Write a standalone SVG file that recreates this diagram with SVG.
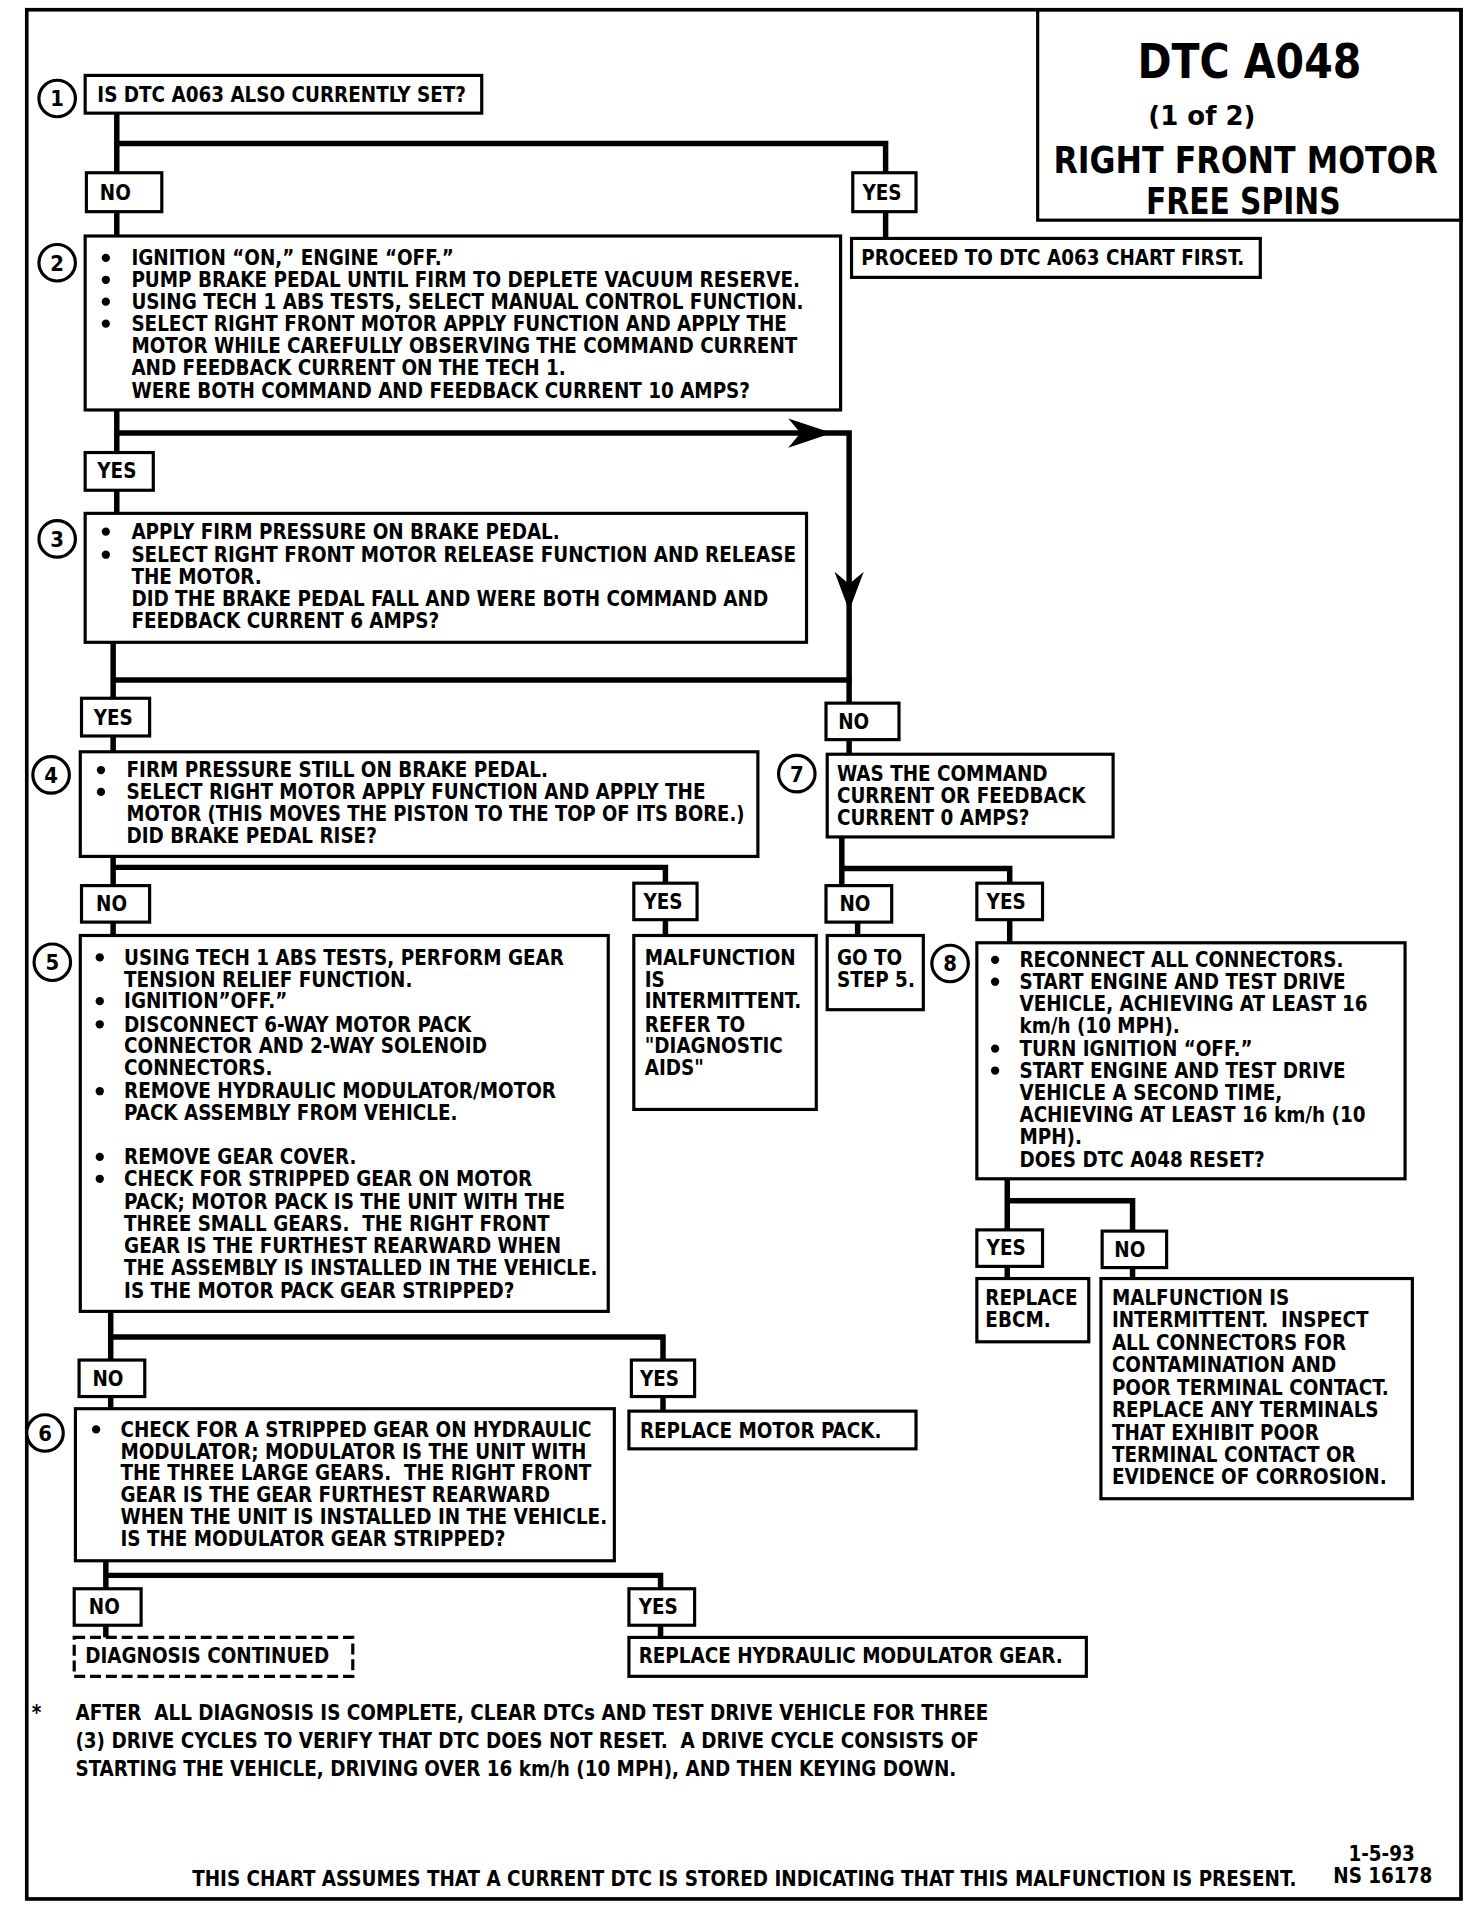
<svg xmlns="http://www.w3.org/2000/svg" width="1472" height="1908" viewBox="0 0 1472 1908">
<style>
.bx{fill:#fff;stroke:#000;stroke-width:2.6}
.dash{fill:#fff;stroke:#000;stroke-width:2.6;stroke-dasharray:9 4}
.ln{fill:none;stroke:#000;stroke-width:4.5;stroke-linecap:square}
.cn{fill:#fff;stroke:#000;stroke-width:2.6}
.t{font-family:"DejaVu Sans Condensed","DejaVu Sans","Liberation Sans",sans-serif;font-weight:bold;font-size:16.8px;fill:#000}
.n{font-family:"DejaVu Sans Condensed","DejaVu Sans","Liberation Sans",sans-serif;font-weight:bold;font-size:18px;fill:#000;text-anchor:middle}
.h{font-family:"DejaVu Sans Condensed","DejaVu Sans","Liberation Sans",sans-serif;font-weight:bold;fill:#000;text-anchor:middle}
.bu{fill:#000}
</style>
<rect width="1472" height="1908" fill="#fff"/>
<g transform="scale(1.2165)">
<g id="frame">
<rect x="22" y="8" width="1179" height="1553" fill="none" stroke="#000" stroke-width="3"/>
</g>
<g id="title">
<rect x="853" y="8" width="348" height="173" fill="none" stroke="#000" stroke-width="2.6"/>
<text class="h" x="1027" y="64" font-size="40" textLength="184" lengthAdjust="spacingAndGlyphs">DTC A048</text>
<text class="h" x="988" y="103" font-size="22" textLength="88" lengthAdjust="spacingAndGlyphs">(1 of 2)</text>
<text class="h" x="1024" y="142" font-size="30" textLength="316" lengthAdjust="spacingAndGlyphs">RIGHT FRONT MOTOR</text>
<text class="h" x="1022" y="176" font-size="30" textLength="160" lengthAdjust="spacingAndGlyphs">FREE SPINS</text>
</g>

<g id="connectors">
<path class="ln" d="M96 93V142M96 118H728V142M96 174V194M728 174V196"/>
<path class="ln" d="M96 337V372M96 356H698V578M96 403V422"/>
<path d="M684 356L648 344L658 356L648 368Z" fill="#000"/>
<path d="M698 502L686 470L698 480L710 470Z" fill="#000"/>
<path class="ln" d="M93 528V574M93 559H698M93 605V618M698 608V620"/>
<path class="ln" d="M93 704V728M93 713H547V726M93 758V769M547 756V769"/>
<path class="ln" d="M692 688V728M692 714H830V726M705 758V769M830 756V775"/>
<path class="ln" d="M828 969V1011M828 987H931V1012M828 1041V1051M931 1042V1051"/>
<path class="ln" d="M91 1078V1118M91 1099H545V1118M91 1148V1158M545 1148V1160"/>
<path class="ln" d="M87 1283V1306M87 1295H543V1306M87 1336V1346M543 1336V1346"/>
</g>

<g id="step1">
<circle class="cn" cx="47" cy="81" r="15"/><text class="n" x="47" y="87.5">1</text>
<rect class="bx" x="70" y="62" width="326" height="31"/>
<text class="t" x="80" y="84">IS DTC A063 ALSO CURRENTLY SET?</text>
</g>
<g id="l1no"><rect class="bx" x="71" y="142" width="62" height="32"/><text class="t" x="82" y="164">NO</text></g>
<g id="l1yes"><rect class="bx" x="701" y="142" width="52" height="32"/><text class="t" x="709" y="164">YES</text></g>
<g id="proceed">
<rect class="bx" x="700" y="196" width="336" height="32"/>
<text class="t" x="708" y="218">PROCEED TO DTC A063 CHART FIRST.</text>
</g>

<g id="step2">
<circle class="cn" cx="47" cy="216" r="15"/><text class="n" x="47" y="222.5">2</text>
<rect class="bx" x="70" y="194" width="621" height="143"/>
<circle class="bu" cx="87" cy="212" r="3.4"/><circle class="bu" cx="87" cy="230" r="3.4"/><circle class="bu" cx="87" cy="248" r="3.4"/><circle class="bu" cx="87" cy="266" r="3.4"/>
<text class="t"><tspan x="108" y="218">IGNITION “ON,” ENGINE “OFF.”</tspan><tspan x="108" y="236">PUMP BRAKE PEDAL UNTIL FIRM TO DEPLETE VACUUM RESERVE.</tspan><tspan x="108" y="254">USING TECH 1 ABS TESTS, SELECT MANUAL CONTROL FUNCTION.</tspan><tspan x="108" y="272">SELECT RIGHT FRONT MOTOR APPLY FUNCTION AND APPLY THE</tspan><tspan x="108" y="290">MOTOR WHILE CAREFULLY OBSERVING THE COMMAND CURRENT</tspan><tspan x="108" y="308">AND FEEDBACK CURRENT ON THE TECH 1.</tspan><tspan x="108" y="327">WERE BOTH COMMAND AND FEEDBACK CURRENT 10 AMPS?</tspan></text>
</g>
<g id="l2yes"><rect class="bx" x="70" y="372" width="56" height="31"/><text class="t" x="80" y="393">YES</text></g>

<g id="step3">
<circle class="cn" cx="47" cy="443" r="15"/><text class="n" x="47" y="449.5">3</text>
<rect class="bx" x="70" y="422" width="593" height="106"/>
<circle class="bu" cx="87" cy="437" r="3.4"/><circle class="bu" cx="87" cy="456" r="3.4"/>
<text class="t"><tspan x="108" y="443">APPLY FIRM PRESSURE ON BRAKE PEDAL.</tspan><tspan x="108" y="462">SELECT RIGHT FRONT MOTOR RELEASE FUNCTION AND RELEASE</tspan><tspan x="108" y="480">THE MOTOR.</tspan><tspan x="108" y="498">DID THE BRAKE PEDAL FALL AND WERE BOTH COMMAND AND</tspan><tspan x="108" y="516">FEEDBACK CURRENT 6 AMPS?</tspan></text>
</g>
<g id="l3yes"><rect class="bx" x="67" y="574" width="56" height="31"/><text class="t" x="77" y="596">YES</text></g>
<g id="l3no"><rect class="bx" x="679" y="578" width="60" height="30"/><text class="t" x="689" y="599">NO</text></g>

<g id="step4">
<circle class="cn" cx="42" cy="637" r="15"/><text class="n" x="42" y="643.5">4</text>
<rect class="bx" x="66" y="618" width="557" height="86"/>
<circle class="bu" cx="83" cy="633" r="3.4"/><circle class="bu" cx="83" cy="651" r="3.4"/>
<text class="t" x="104" y="639">FIRM PRESSURE STILL ON BRAKE PEDAL.</text>
<text class="t" x="104" y="657">SELECT RIGHT MOTOR APPLY FUNCTION AND APPLY THE</text>
<text class="t" x="104" y="675" textLength="508" lengthAdjust="spacingAndGlyphs">MOTOR (THIS MOVES THE PISTON TO THE TOP OF ITS BORE.)</text>
<text class="t" x="104" y="693">DID BRAKE PEDAL RISE?</text>
</g>
<g id="step7">
<circle class="cn" cx="655" cy="636" r="15"/><text class="n" x="655" y="642.5">7</text>
<rect class="bx" x="680" y="620" width="235" height="68"/>
<text class="t"><tspan x="688" y="642">WAS THE COMMAND</tspan><tspan x="688" y="660">CURRENT OR FEEDBACK</tspan><tspan x="688" y="678">CURRENT 0 AMPS?</tspan></text>
</g>
<g id="l4no"><rect class="bx" x="67" y="728" width="56" height="30"/><text class="t" x="79" y="749">NO</text></g>
<g id="l4yes"><rect class="bx" x="521" y="726" width="52" height="30"/><text class="t" x="529" y="747">YES</text></g>
<g id="l7no"><rect class="bx" x="679" y="728" width="54" height="30"/><text class="t" x="690" y="749">NO</text></g>
<g id="l7yes"><rect class="bx" x="803" y="726" width="54" height="30"/><text class="t" x="811" y="747">YES</text></g>

<g id="step5">
<circle class="cn" cx="43" cy="791" r="15"/><text class="n" x="43" y="797.5">5</text>
<rect class="bx" x="66" y="769" width="434" height="309"/>
<circle class="bu" cx="82" cy="787" r="3.4"/><circle class="bu" cx="82" cy="823" r="3.4"/><circle class="bu" cx="82" cy="842" r="3.4"/><circle class="bu" cx="82" cy="897" r="3.4"/><circle class="bu" cx="82" cy="951" r="3.4"/><circle class="bu" cx="82" cy="969" r="3.4"/>
<text class="t"><tspan x="102" y="793">USING TECH 1 ABS TESTS, PERFORM GEAR</tspan><tspan x="102" y="811">TENSION RELIEF FUNCTION.</tspan><tspan x="102" y="829">IGNITION”OFF.”</tspan><tspan x="102" y="848">DISCONNECT 6-WAY MOTOR PACK</tspan><tspan x="102" y="866">CONNECTOR AND 2-WAY SOLENOID</tspan><tspan x="102" y="884">CONNECTORS.</tspan><tspan x="102" y="903">REMOVE HYDRAULIC MODULATOR/MOTOR</tspan><tspan x="102" y="921">PACK ASSEMBLY FROM VEHICLE.</tspan><tspan x="102" y="957">REMOVE GEAR COVER.</tspan><tspan x="102" y="975">CHECK FOR STRIPPED GEAR ON MOTOR</tspan><tspan x="102" y="994">PACK; MOTOR PACK IS THE UNIT WITH THE</tspan><tspan x="102" y="1012">THREE SMALL GEARS.&#160; THE RIGHT FRONT</tspan><tspan x="102" y="1030">GEAR IS THE FURTHEST REARWARD WHEN</tspan><tspan x="102" y="1048">THE ASSEMBLY IS INSTALLED IN THE VEHICLE.</tspan><tspan x="102" y="1067">IS THE MOTOR PACK GEAR STRIPPED?</tspan></text>
</g>
<g id="intermittent1">
<rect class="bx" x="521" y="769" width="150" height="143"/>
<text class="t"><tspan x="530" y="793">MALFUNCTION</tspan><tspan x="530" y="811">IS</tspan><tspan x="530" y="829">INTERMITTENT.</tspan><tspan x="530" y="848">REFER TO</tspan><tspan x="530" y="866">"DIAGNOSTIC</tspan><tspan x="530" y="884">AIDS"</tspan></text>
</g>
<g id="goto5">
<rect class="bx" x="680" y="769" width="79" height="61"/>
<text class="t"><tspan x="688" y="793">GO TO</tspan><tspan x="688" y="811">STEP 5.</tspan></text>
</g>
<g id="step8">
<circle class="cn" cx="781" cy="792" r="15"/><text class="n" x="781" y="798.5">8</text>
<rect class="bx" x="803" y="775" width="352" height="194"/>
<circle class="bu" cx="818" cy="789" r="3.4"/><circle class="bu" cx="818" cy="807" r="3.4"/><circle class="bu" cx="818" cy="862" r="3.4"/><circle class="bu" cx="818" cy="880" r="3.4"/>
<text class="t"><tspan x="838" y="795">RECONNECT ALL CONNECTORS.</tspan><tspan x="838" y="813">START ENGINE AND TEST DRIVE</tspan><tspan x="838" y="831">VEHICLE, ACHIEVING AT LEAST 16</tspan><tspan x="838" y="849">km/h (10 MPH).</tspan><tspan x="838" y="868">TURN IGNITION “OFF.”</tspan><tspan x="838" y="886">START ENGINE AND TEST DRIVE</tspan><tspan x="838" y="904">VEHICLE A SECOND TIME,</tspan><tspan x="838" y="922">ACHIEVING AT LEAST 16 km/h (10</tspan><tspan x="838" y="940">MPH).</tspan><tspan x="838" y="959">DOES DTC A048 RESET?</tspan></text>
</g>
<g id="l8yes"><rect class="bx" x="803" y="1011" width="54" height="30"/><text class="t" x="811" y="1032">YES</text></g>
<g id="l8no"><rect class="bx" x="906" y="1012" width="53" height="30"/><text class="t" x="916" y="1033">NO</text></g>
<g id="ebcm">
<rect class="bx" x="803" y="1051" width="92" height="52"/>
<text class="t"><tspan x="810" y="1073">REPLACE</tspan><tspan x="810" y="1091">EBCM.</tspan></text>
</g>
<g id="intermittent2">
<rect class="bx" x="905" y="1051" width="256" height="181"/>
<text class="t"><tspan x="914" y="1073">MALFUNCTION IS</tspan><tspan x="914" y="1091">INTERMITTENT.&#160; INSPECT</tspan><tspan x="914" y="1110">ALL CONNECTORS FOR</tspan><tspan x="914" y="1128">CONTAMINATION AND</tspan><tspan x="914" y="1147">POOR TERMINAL CONTACT.</tspan><tspan x="914" y="1165">REPLACE ANY TERMINALS</tspan><tspan x="914" y="1184">THAT EXHIBIT POOR</tspan><tspan x="914" y="1202">TERMINAL CONTACT OR</tspan><tspan x="914" y="1220">EVIDENCE OF CORROSION.</tspan></text>
</g>
<g id="l5no"><rect class="bx" x="65" y="1118" width="54" height="30"/><text class="t" x="76" y="1139">NO</text></g>
<g id="l5yes"><rect class="bx" x="519" y="1118" width="52" height="30"/><text class="t" x="526" y="1139">YES</text></g>

<g id="step6">
<circle class="cn" cx="37" cy="1178" r="15"/><text class="n" x="37" y="1184.5">6</text>
<rect class="bx" x="62" y="1158" width="443" height="125"/>
<circle class="bu" cx="79" cy="1175" r="3.4"/>
<text class="t"><tspan x="99" y="1181">CHECK FOR A STRIPPED GEAR ON HYDRAULIC</tspan><tspan x="99" y="1199">MODULATOR; MODULATOR IS THE UNIT WITH</tspan><tspan x="99" y="1217">THE THREE LARGE GEARS.&#160; THE RIGHT FRONT</tspan><tspan x="99" y="1235">GEAR IS THE GEAR FURTHEST REARWARD</tspan><tspan x="99" y="1253">WHEN THE UNIT IS INSTALLED IN THE VEHICLE.</tspan><tspan x="99" y="1271">IS THE MODULATOR GEAR STRIPPED?</tspan></text>
</g>
<g id="motorpack">
<rect class="bx" x="517" y="1160" width="236" height="31"/>
<text class="t" x="526" y="1182">REPLACE MOTOR PACK.</text>
</g>
<g id="l6no"><rect class="bx" x="61" y="1306" width="55" height="30"/><text class="t" x="73" y="1327">NO</text></g>
<g id="l6yes"><rect class="bx" x="517" y="1306" width="54" height="30"/><text class="t" x="525" y="1327">YES</text></g>
<g id="continued">
<rect class="dash" x="61" y="1346" width="229" height="32"/>
<text class="t" x="70" y="1367">DIAGNOSIS CONTINUED</text>
</g>
<g id="modgear">
<rect class="bx" x="517" y="1346" width="376" height="32"/>
<text class="t" x="525" y="1367">REPLACE HYDRAULIC MODULATOR GEAR.</text>
</g>

<g id="notes">
<text class="t" x="26" y="1414">*</text>
<text class="t"><tspan x="62" y="1414">AFTER&#160; ALL DIAGNOSIS IS COMPLETE, CLEAR DTCs AND TEST DRIVE VEHICLE FOR THREE</tspan><tspan x="62" y="1437">(3) DRIVE CYCLES TO VERIFY THAT DTC DOES NOT RESET.&#160; A DRIVE CYCLE CONSISTS OF</tspan><tspan x="62" y="1460">STARTING THE VEHICLE, DRIVING OVER 16 km/h (10 MPH), AND THEN KEYING DOWN.</tspan></text>
<text class="t" x="158" y="1550">THIS CHART ASSUMES THAT A CURRENT DTC IS STORED INDICATING THAT THIS MALFUNCTION IS PRESENT.</text>
<text class="t" x="1163" y="1530" text-anchor="end">1-5-93</text>
<text class="t" x="1096" y="1548">NS 16178</text>
</g>
</g>
</svg>
